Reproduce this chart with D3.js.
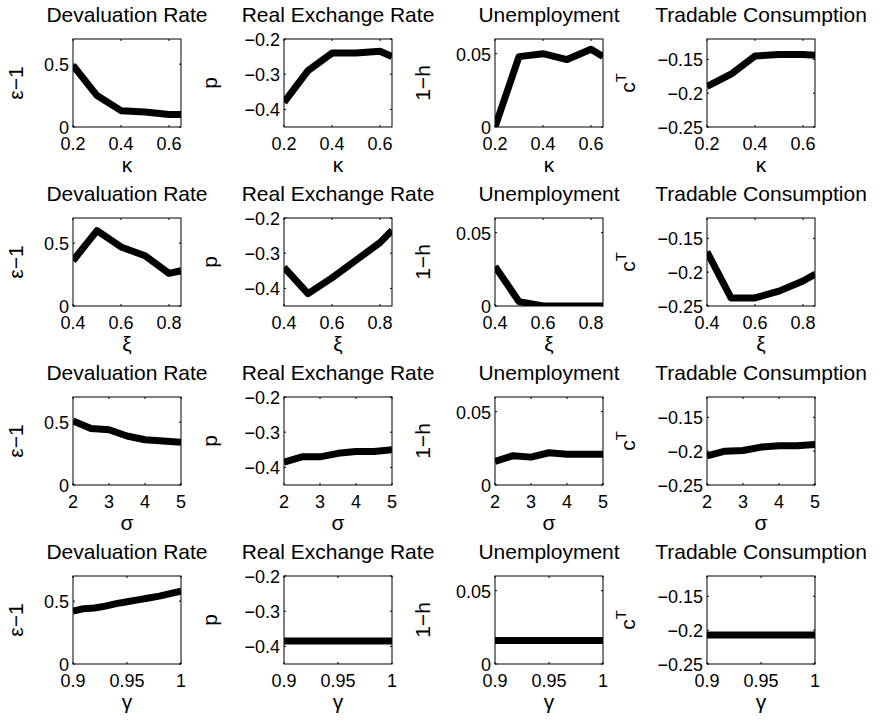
<!DOCTYPE html>
<html><head><meta charset="utf-8">
<script src="https://cdn.jsdelivr.net/npm/d3@7"></script>
<style>body{margin:0;background:#fff}text{font-family:"Liberation Sans",Arial,sans-serif;fill:#000}</style>
</head><body><svg width="880" height="722"></svg>
<script>
const titles = ['Devaluation Rate', 'Real Exchange Rate', 'Unemployment', 'Tradable Consumption'];
const yLabels = ['ε−1', 'p', '1−h', 'c'];
const yDomains = [[0, 0.7], [-0.45, -0.2], [0, 0.06], [-0.25, -0.12]];
const yTicks = [[0, 0.5], [-0.4, -0.3, -0.2], [0, 0.05], [-0.25, -0.2, -0.15]];
const yFmt = [d => d === 0 ? '0' : d, d => String(d).replace('-', '−'), d => d === 0 ? '0' : d, d => String(d).replace('-', '−')];

const params = ['κ', 'ξ', 'σ', 'γ'];
const xDomains = [[0.2, 0.65], [0.4, 0.85], [2, 5], [0.9, 1]];
const xTicks = [[0.2, 0.4, 0.6], [0.4, 0.6, 0.8], [2, 3, 4, 5], [0.9, 0.95, 1]];

const kappa = [0.2, 0.3, 0.4, 0.5, 0.6, 0.65];
const xi = [0.4, 0.5, 0.6, 0.7, 0.8, 0.85];
const sigma = [2, 2.5, 3, 3.5, 4, 4.5, 5];
const gamma = [0.9, 0.91, 0.92, 0.93, 0.94, 0.95, 0.96, 0.97, 0.98, 0.99, 1];
const xValues = [kappa, xi, sigma, gamma];

// rows: parameter, columns: variable
const series = [
  [[0.49, 0.25, 0.13, 0.12, 0.10, 0.10],
   [-0.38, -0.29, -0.24, -0.24, -0.235, -0.25],
   [0, 0.048, 0.05, 0.046, 0.053, 0.048],
   [-0.19, -0.172, -0.145, -0.143, -0.143, -0.144]],
  [[0.36, 0.60, 0.47, 0.40, 0.26, 0.28],
   [-0.34, -0.415, -0.37, -0.32, -0.27, -0.235],
   [0.027, 0.003, 0, 0, 0, 0],
   [-0.17, -0.238, -0.238, -0.228, -0.213, -0.203]],
  [[0.51, 0.45, 0.44, 0.39, 0.36, 0.35, 0.34],
   [-0.385, -0.37, -0.37, -0.36, -0.355, -0.355, -0.35],
   [0.016, 0.02, 0.019, 0.022, 0.021, 0.021, 0.021],
   [-0.207, -0.2, -0.199, -0.194, -0.192, -0.192, -0.19]],
  [[0.42, 0.44, 0.445, 0.46, 0.48, 0.495, 0.51, 0.525, 0.54, 0.56, 0.58],
   [-0.385, -0.385, -0.385, -0.385, -0.385, -0.385, -0.385, -0.385, -0.385, -0.385, -0.385],
   [0.016, 0.016, 0.016, 0.016, 0.016, 0.016, 0.016, 0.016, 0.016, 0.016, 0.016],
   [-0.207, -0.207, -0.207, -0.207, -0.207, -0.207, -0.207, -0.207, -0.207, -0.207, -0.207]]
];

const svg = d3.select('svg');
const colX = [73, 284, 495, 707];
const rowY = [39, 218, 397, 576];
const w = 108, h = 88;
const labelX = [-50, -67, -65, -72];

for (let r = 0; r < 4; r++) {
  for (let c = 0; c < 4; c++) {
    const g = svg.append('g').attr('transform', `translate(${colX[c]},${rowY[r]})`);
    const x = d3.scaleLinear().domain(xDomains[r]).range([0, w]);
    const y = d3.scaleLinear().domain(yDomains[c]).range([h, 0]);

    g.append('defs').append('clipPath').attr('id', `c${r}${c}`)
      .append('rect').attr('width', w).attr('height', h);

    const pts = xValues[r].map((v, i) => [v, series[r][c][i]]);
    g.append('path').datum(pts)
      .attr('clip-path', `url(#c${r}${c})`)
      .attr('fill', 'none').attr('stroke', '#000').attr('stroke-width', 7)
      .attr('stroke-linejoin', 'round')
      .attr('d', d3.line().x(d => x(d[0])).y(d => y(d[1])));

    g.append('rect').attr('width', w).attr('height', h)
      .attr('fill', 'none').attr('stroke', '#000').attr('stroke-width', 1);

    // small inward ticks, top and bottom / left and right
    xTicks[r].forEach(t => {
      g.append('line').attr('x1', x(t)).attr('x2', x(t)).attr('y1', 0).attr('y2', 2).attr('stroke', '#000');
      g.append('line').attr('x1', x(t)).attr('x2', x(t)).attr('y1', h).attr('y2', h - 2).attr('stroke', '#000');
    });
    yTicks[c].forEach(t => {
      g.append('line').attr('y1', y(t)).attr('y2', y(t)).attr('x1', 0).attr('x2', 2).attr('stroke', '#000');
      g.append('line').attr('y1', y(t)).attr('y2', y(t)).attr('x1', w).attr('x2', w - 2).attr('stroke', '#000');
    });

    g.selectAll('.xt').data(xTicks[r]).enter().append('text')
      .attr('x', d => x(d)).attr('y', h + 23).attr('text-anchor', 'middle')
      .attr('font-size', 18).text(d => d);
    g.selectAll('.yt').data(yTicks[c]).enter().append('text')
      .attr('x', -4).attr('y', d => y(d) + 7).attr('text-anchor', 'end')
      .attr('font-size', 18).text(yFmt[c]);

    g.append('text').attr('x', w / 2).attr('y', h + 45).attr('text-anchor', 'middle')
      .attr('font-size', 21).text(params[r]);
    g.append('text').attr('x', w / 2).attr('y', -17).attr('text-anchor', 'middle')
      .attr('font-size', 21).text(titles[c]);

    const yl = g.append('text').attr('transform', `translate(${labelX[c]},${h / 2}) rotate(-90)`)
      .attr('text-anchor', 'middle').attr('font-size', 21).text(yLabels[c]);
    if (c === 3) yl.append('tspan').attr('dy', -9).attr('font-size', 15).text('T');
  }
}
</script></body></html>
